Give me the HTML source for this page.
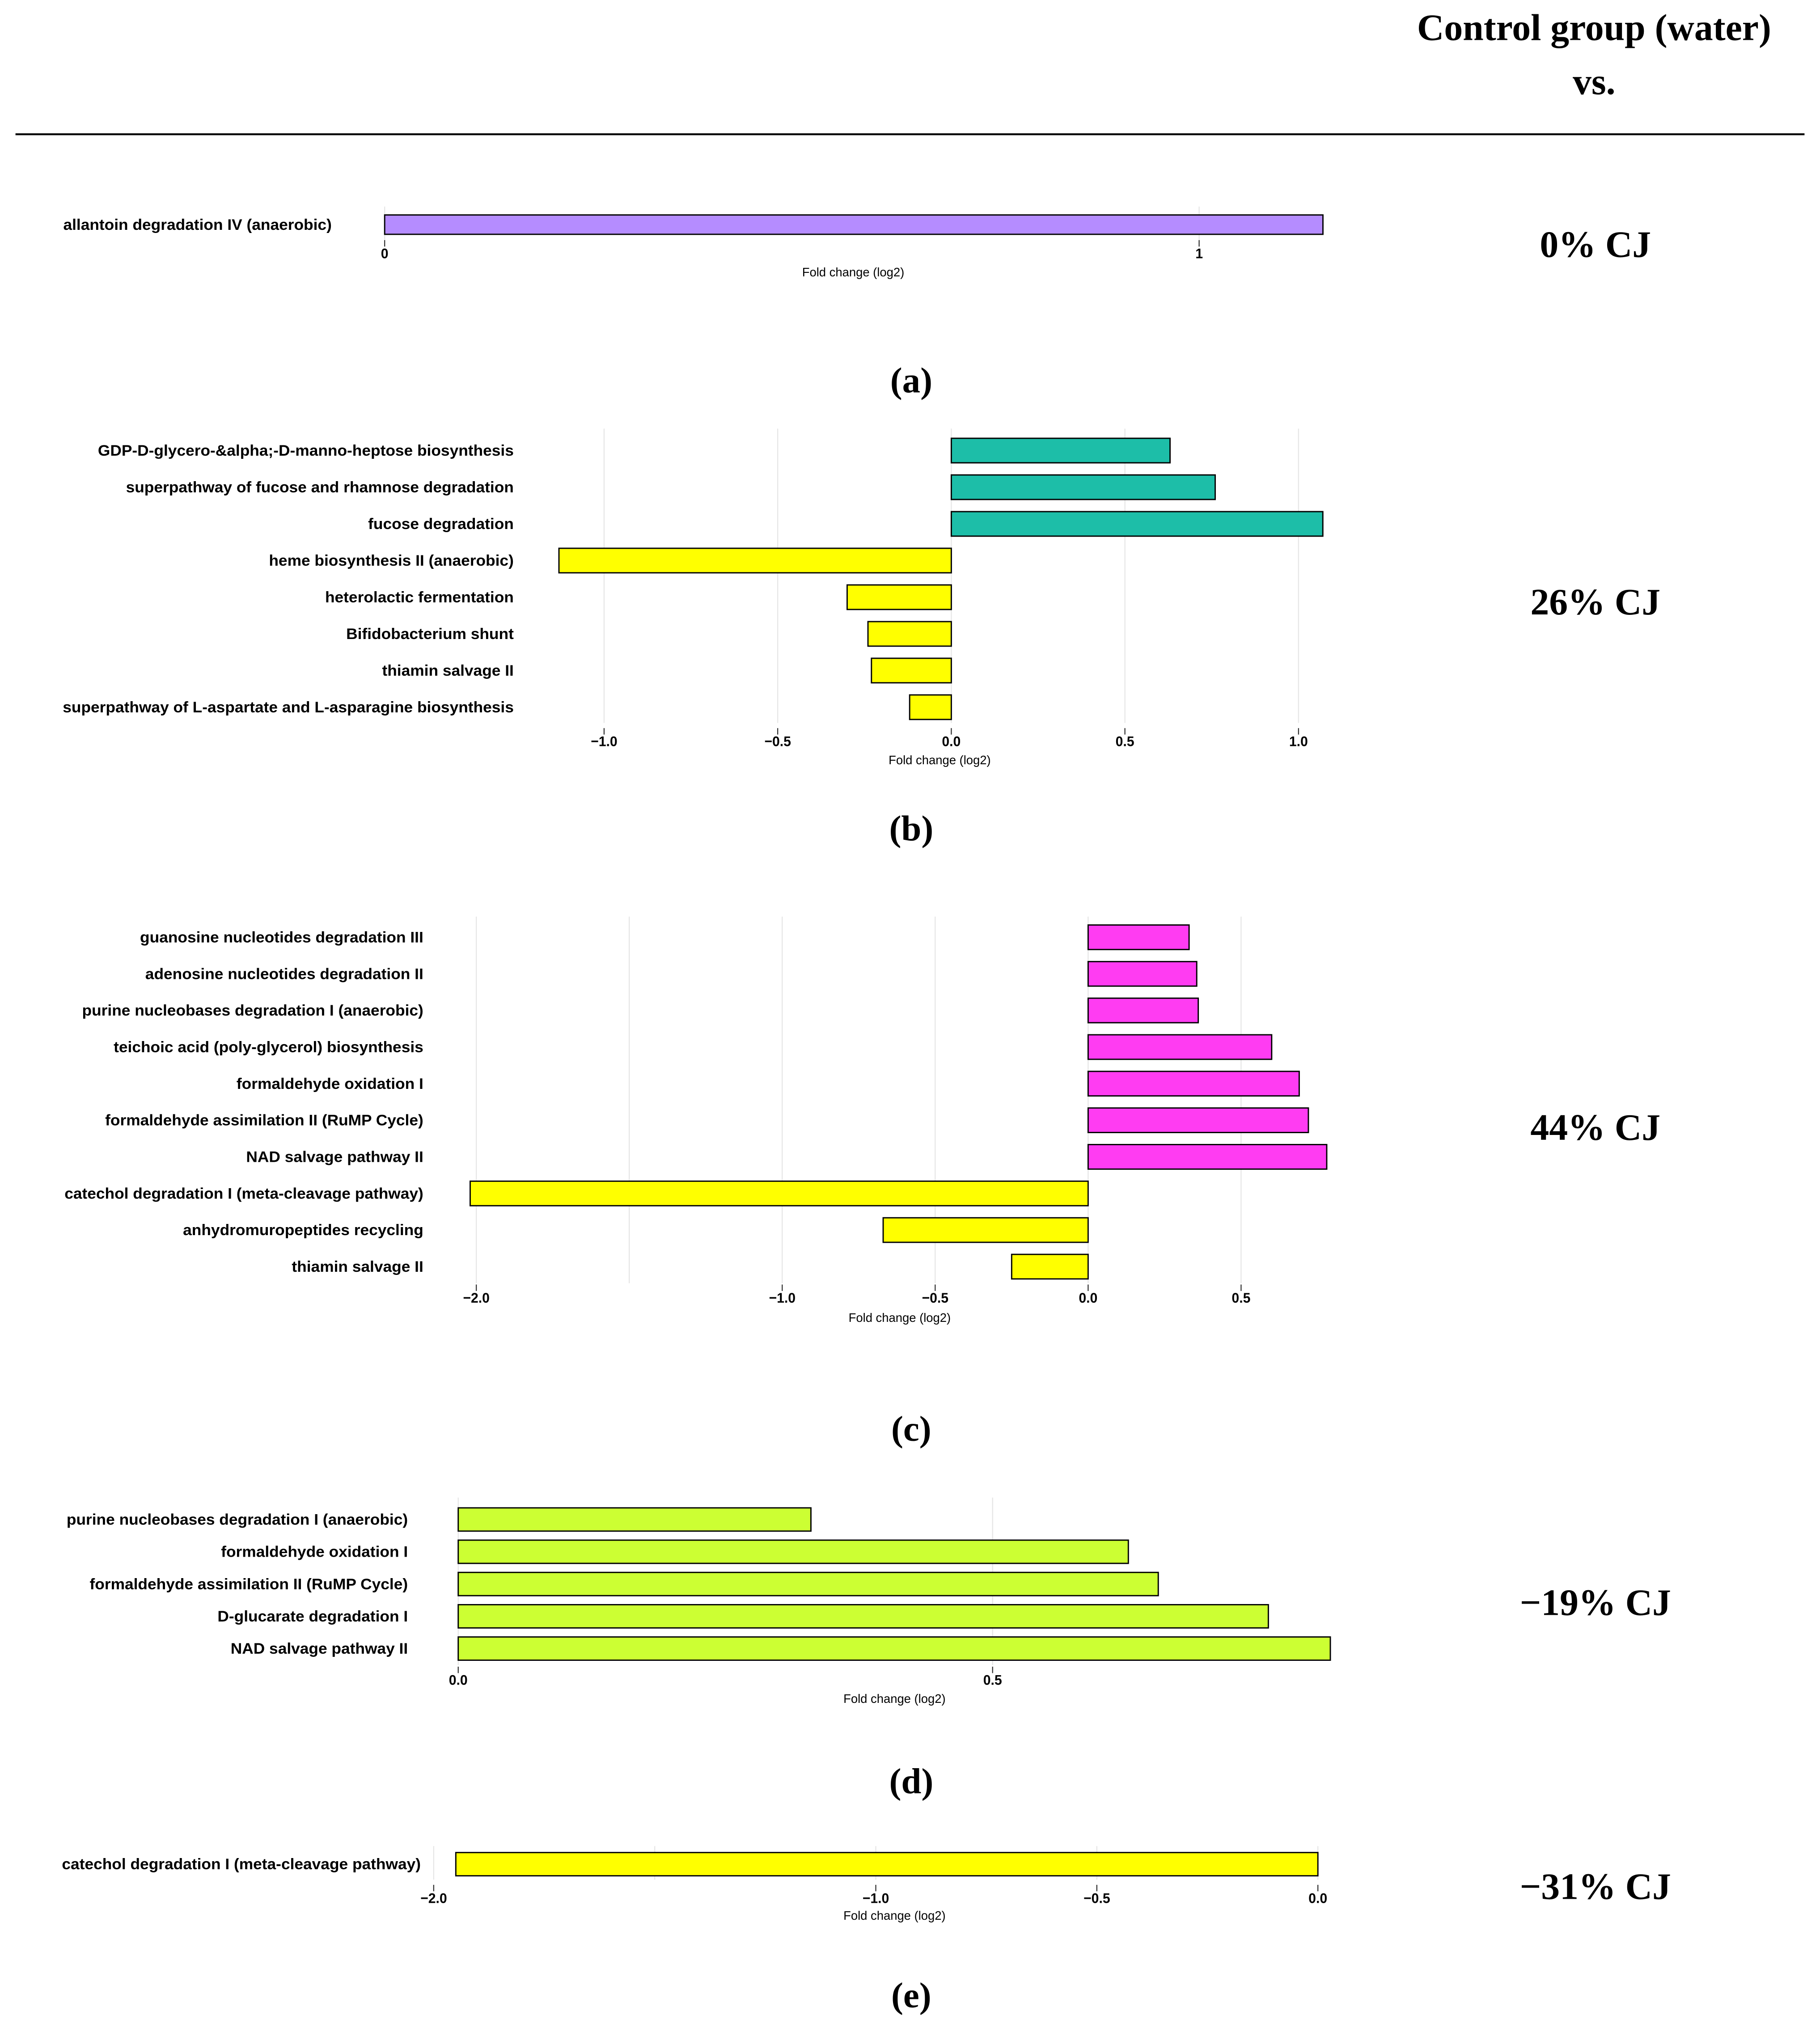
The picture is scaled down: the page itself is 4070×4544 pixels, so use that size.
<!DOCTYPE html>
<html><head><meta charset="utf-8"><style>
html,body{margin:0;padding:0;background:#fff;width:4070px;height:4544px;overflow:hidden}
svg{display:block}
.lbl{font-family:"Liberation Sans",sans-serif;font-weight:bold;font-size:12px;fill:#000}
.tick{font-family:"Liberation Sans",sans-serif;font-weight:bold;font-size:11px;fill:#000}
.ttl{font-family:"Liberation Sans",sans-serif;font-size:9.5px;fill:#000}
.ser{font-family:"Liberation Serif",serif;font-weight:bold;fill:#000}
</style></head><body>
<svg id="fig" width="4070" height="4544" viewBox="0 0 1410 1574" preserveAspectRatio="none" xmlns="http://www.w3.org/2000/svg">
<text class="ser" x="1235" y="31" font-size="29" text-anchor="middle">Control group (water)</text>
<text class="ser" x="1235" y="73" font-size="29" text-anchor="middle">vs.</text>
<line x1="12" x2="1398" y1="104" y2="104" stroke="#000" stroke-width="1.5"/>
<g id="plots"></g>
</svg>
<script>
// Panel a
const catsA=["allantoin degradation IV (anaerobic)"];
const valsA=[1.152];
const ticksA=[0,1];
const tickLabelsA=["0","1"];
// Panel b
const catsB=["GDP-D-glycero-&alpha;-D-manno-heptose biosynthesis","superpathway of fucose and rhamnose degradation","fucose degradation","heme biosynthesis II (anaerobic)","heterolactic fermentation","Bifidobacterium shunt","thiamin salvage II","superpathway of L-aspartate and L-asparagine biosynthesis"];
const valsB=[0.63,0.76,1.07,-1.13,-0.30,-0.24,-0.23,-0.12];
const ticksB=[-1,-0.5,0,0.5,1];
const tickLabelsB=["\u22121.0","\u22120.5","0.0","0.5","1.0"];
// Panel c
const catsC=["guanosine nucleotides degradation III","adenosine nucleotides degradation II","purine nucleobases degradation I (anaerobic)","teichoic acid (poly-glycerol) biosynthesis","formaldehyde oxidation I","formaldehyde assimilation II (RuMP Cycle)","NAD salvage pathway II","catechol degradation I (meta-cleavage pathway)","anhydromuropeptides recycling","thiamin salvage II"];
const valsC=[0.33,0.355,0.36,0.60,0.69,0.72,0.78,-2.02,-0.67,-0.25];
const ticksC=[-2,-1,-0.5,0,0.5];
const tickLabelsC=["\u22122.0","\u22121.0","\u22120.5","0.0","0.5"];
// Panel d
const catsD=["purine nucleobases degradation I (anaerobic)","formaldehyde oxidation I","formaldehyde assimilation II (RuMP Cycle)","D-glucarate degradation I","NAD salvage pathway II"];
const valsD=[0.33,0.627,0.655,0.758,0.816];
const ticksD=[0,0.5];
const tickLabelsD=["0.0","0.5"];
// Panel e
const catsE=["catechol degradation I (meta-cleavage pathway)"];
const valsE=[-1.95];
const ticksE=[-2,-1,-0.5,0];
const tickLabelsE=["\u22122.0","\u22121.0","\u22120.5","0.0"];

const NS="http://www.w3.org/2000/svg";
const root=document.getElementById('plots');
function mk(tag,attrs,parent){const e=document.createElementNS(NS,tag);for(const k in attrs)e.setAttribute(k,attrs[k]);(parent||root).appendChild(e);return e;}

const panels=[
 {id:'a',cats:catsA,vals:valsA,ticks:ticksA,tl:tickLabelsA,x0:298,ppu:631,y0:174,step:28,bh:15,gridTop:160,gridBot:186,tickY:200,titleY:214,labR:257,col:p=>'#B58CFF',grid:[0,1],cj:'0% CJ',cjY:199,letY:304,tx:661},
 {id:'b',cats:catsB,vals:valsB,ticks:ticksB,tl:tickLabelsB,x0:737,ppu:269,y0:349,step:28.4,bh:19,gridTop:332,gridBot:560,tickY:578,titleY:592,labR:398,col:v=>v>0?'#1DBEA8':'#FFFF00',grid:[-1,-0.5,0,0.5,1],cj:'26% CJ',cjY:476,letY:651,tx:728},
 {id:'c',cats:catsC,vals:valsC,ticks:ticksC,tl:tickLabelsC,x0:843,ppu:237,y0:726,step:28.35,bh:19,gridTop:710,gridBot:994,tickY:1009,titleY:1024,labR:328,col:v=>v>0?'#FF3CF2':'#FFFF00',grid:[-2,-1.5,-1,-0.5,0,0.5],cj:'44% CJ',cjY:883,letY:1116,tx:697},
 {id:'d',cats:catsD,vals:valsD,ticks:ticksD,tl:tickLabelsD,x0:355,ppu:828,y0:1177,step:25,bh:18,gridTop:1160,gridBot:1290,tickY:1305,titleY:1319,labR:316,col:v=>'#CCFF33',grid:[0,0.5],cj:'\u221219% CJ',cjY:1251,letY:1389,tx:693},
 {id:'e',cats:catsE,vals:valsE,ticks:ticksE,tl:tickLabelsE,x0:1021,ppu:342.5,y0:1444,step:28,bh:18,gridTop:1430,gridBot:1456,tickY:1474,titleY:1487,labR:326,col:v=>'#FFFF00',grid:[-2,-1.5,-1,-0.5,0],cj:'\u221231% CJ',cjY:1471,letY:1555,tx:693}
];

panels.forEach(P=>{
  const xs=v=>P.x0+v*P.ppu;
  const g=mk('g',{});
  
  
  P.grid.forEach(v=>{
    const l=mk('line',{x1:xs(v),x2:xs(v),y1:P.gridTop,y2:P.gridBot,stroke:'#e6e6e6','stroke-width':0.8},g);
    
    
  });
  P.cats.forEach((c,i)=>{
    const v=P.vals[i];
    const y=P.y0+i*P.step;
    const x1=Math.min(xs(0),xs(v)),x2=Math.max(xs(0),xs(v));
    const r=mk('rect',{x:x1,y:y-P.bh/2,width:x2-x1,height:P.bh,fill:P.col(v),stroke:'#000','stroke-width':1},g);
    
    
    const t=mk('text',{class:'lbl','text-anchor':'end',transform:`translate(${P.labR},${y+4}) scale(1.02,1)`},g);
    t.textContent=c;
    
    
  });
  P.ticks.forEach((v,i)=>{
    const tm=mk('line',{x1:xs(v),x2:xs(v),y1:P.tickY-14,y2:P.tickY-9,stroke:'#333','stroke-width':0.8},g);
    
    
    const t=mk('text',{class:'tick','text-anchor':'middle',transform:`translate(${xs(v)},${P.tickY}) scale(0.95,1)`},g);
    t.textContent=P.tl[i];
    
    
  });
  const tt=mk('text',{class:'ttl','text-anchor':'middle',x:P.tx,y:P.titleY},g);
  tt.textContent='Fold change (log2)';
  
  
  const cj=mk('text',{class:'ser','text-anchor':'middle',x:1236,y:P.cjY,'font-size':29},g);
  cj.textContent=P.cj;
  
  
  const lt=mk('text',{class:'ser','text-anchor':'middle',x:706,y:P.letY,'font-size':28},g);
  lt.textContent='('+P.id+')';
  
  
});
</script>
</body></html>
